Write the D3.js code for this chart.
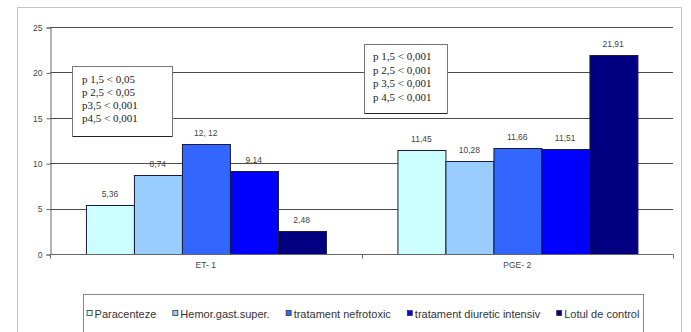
<!DOCTYPE html>
<html>
<head>
<meta charset="utf-8">
<script src="https://cdn.jsdelivr.net/npm/d3@7"></script>
<style>
  html, body { margin: 0; padding: 0; background: #fff; }
  svg { display: block; }
  text { font-family: "Liberation Sans", Arial, sans-serif; }
</style>
</head>
<body>
<svg id="chart" width="691" height="332"></svg>
<script>
// Categories (groups on the x axis)
const categories = ["ET- 1", "PGE- 2"];

// Series names (legend order)
const seriesNames = ["Paracenteze", "Hemor.gast.super.", "tratament nefrotoxic", "tratament diuretic intensiv", "Lotul de control"];

// Values per series, one per category
const paracenteze = [5.36, 11.45];
const hemorGast = [8.74, 10.28];
const nefrotoxic = [12.12, 11.66];
const diuretic = [9.14, 11.51];
const control = [2.48, 21.91];

// Value labels as printed above the bars
const paracentezeLabels = ["5,36", "11,45"];
const hemorGastLabels = ["8,74", "10,28"];
const nefrotoxicLabels = ["12, 12", "11,66"];
const diureticLabels = ["9,14", "11,51"];
const controlLabels = ["2,48", "21,91"];

// Y axis ticks
const yTicks = [0, 5, 10, 15, 20, 25];

// Significance notes for each group
const notesET = ["p 1,5 < 0,05", "p 2,5 < 0,05", "p3,5 < 0,001", "p4,5 < 0,001"];
const notesPGE = ["p 1,5 < 0,001", "p 2,5 < 0,001", "p 3,5 < 0,001", "p 4,5 < 0,001"];

const seriesValues = [paracenteze, hemorGast, nefrotoxic, diuretic, control];
const seriesLabels = [paracentezeLabels, hemorGastLabels, nefrotoxicLabels, diureticLabels, controlLabels];
const colors = ["#CCFFFF", "#99CCFF", "#3366FF", "#0000FF", "#000080"];

const svg = d3.select("#chart");

// Outer chart frame
svg.append("path")
  .attr("d", "M17.5,340 V7.5 H681.5 V340")
  .attr("fill", "none")
  .attr("stroke", "#c4c4c4")
  .attr("stroke-width", 1);

const plot = { left: 50, right: 673, top: 27, bottom: 254 };

const y = d3.scaleLinear().domain([0, 25]).range([plot.bottom, plot.top]);

const x0 = d3.scaleBand()
  .domain(categories)
  .range([plot.left, plot.right])
  .paddingInner(1.5 / 6.5)
  .paddingOuter(0.75 / 6.5);

const x1 = d3.scaleBand()
  .domain(d3.range(seriesNames.length))
  .range([0, x0.bandwidth()]);

// Horizontal gridlines
svg.append("g")
  .selectAll("line")
  .data(yTicks.filter(d => d > 0))
  .join("line")
  .attr("x1", plot.left)
  .attr("x2", plot.right)
  .attr("y1", d => Math.round(y(d)) + 0.5)
  .attr("y2", d => Math.round(y(d)) + 0.5)
  .attr("stroke", "#4a4a4a")
  .attr("stroke-width", 1);

// Y axis
const yAxis = d3.axisLeft(y).tickValues(yTicks).tickSize(4).tickPadding(4).tickFormat(d3.format("d"));
const gy = svg.append("g")
  .attr("transform", `translate(${plot.left + 0.5},0.5)`)
  .call(yAxis);
gy.select(".domain").attr("stroke", "#666");
gy.selectAll(".tick line").attr("stroke", "#666");
gy.selectAll(".tick text")
  .attr("fill", "#444")
  .style("font-size", "8.5px")
  .style("font-family", "Liberation Sans, Arial, sans-serif");

// Bars
const groups = svg.append("g")
  .selectAll("g")
  .data(categories)
  .join("g")
  .attr("transform", d => `translate(${x0(d)},0)`);

groups.selectAll("rect")
  .data((c, ci) => seriesValues.map((vals, si) => ({ si, v: vals[ci] })))
  .join("rect")
  .attr("x", d => Math.round(x1(d.si)) + 0.5)
  .attr("width", Math.round(x1.bandwidth()))
  .attr("y", d => Math.round(y(d.v)) + 0.5)
  .attr("height", d => Math.round(y(0)) - Math.round(y(d.v)))
  .attr("fill", d => colors[d.si])
  .attr("stroke", "#1a1a3a")
  .attr("stroke-width", 1);

// Value labels above bars
groups.selectAll("text.val")
  .data((c, ci) => seriesValues.map((vals, si) => ({ si, v: vals[ci], label: seriesLabels[si][ci] })))
  .join("text")
  .attr("class", "val")
  .attr("x", d => x1(d.si) + x1.bandwidth() / 2)
  .attr("y", d => y(d.v) - 8)
  .attr("text-anchor", "middle")
  .attr("fill", "#444")
  .style("font-size", "8.5px")
  .text(d => d.label);

// Category axis
const xAxis = d3.axisBottom(x0).tickSize(0).tickPadding(7);
const gx = svg.append("g")
  .attr("transform", `translate(0,${plot.bottom + 0.5})`)
  .call(xAxis);
gx.select(".domain").attr("stroke", "#666").attr("d", `M${plot.left},0H${plot.right}`);
gx.selectAll(".tick text")
  .attr("fill", "#444")
  .style("font-size", "8.5px")
  .style("font-family", "Liberation Sans, Arial, sans-serif");
// Category separator ticks at the group boundaries
gx.append("g")
  .selectAll("line")
  .data([plot.left, (plot.left + plot.right) / 2, plot.right])
  .join("line")
  .attr("x1", d => Math.round(d) + 0.5)
  .attr("x2", d => Math.round(d) + 0.5)
  .attr("y1", 0)
  .attr("y2", 4)
  .attr("stroke", "#666");

// Significance note boxes
function noteBox(lines, bx, by, bw, bh, tx, ty0, lh) {
  const g = svg.append("g");
  g.append("rect")
    .attr("x", bx + 0.5).attr("y", by + 0.5)
    .attr("width", bw).attr("height", bh)
    .attr("fill", "#fff")
    .attr("stroke", "#777");
  g.append("line")
    .attr("x1", bx + 1).attr("x2", bx + bw)
    .attr("y1", by + bh + 0.5).attr("y2", by + bh + 0.5)
    .attr("stroke", "#222").attr("stroke-width", 1.2);
  g.selectAll("text")
    .data(lines)
    .join("text")
    .attr("x", tx)
    .attr("y", (d, i) => ty0 + i * lh)
    .attr("fill", "#1a1a1a")
    .style("font-family", "Liberation Serif, 'Times New Roman', serif")
    .style("font-size", "11px")
    .text(d => d);
}
noteBox(notesET, 72, 66, 100, 70, 82, 83, 13);
noteBox(notesPGE, 364, 44, 83, 69, 373, 60, 13.7);

// Legend
const legendBox = { x: 83, y: 294, w: 560, h: 45 };
svg.append("rect")
  .attr("x", legendBox.x + 0.5).attr("y", legendBox.y + 0.5)
  .attr("width", legendBox.w).attr("height", legendBox.h)
  .attr("fill", "#fff")
  .attr("stroke", "#888");

const legend = svg.append("g");
const items = legend.selectAll("g")
  .data(seriesNames)
  .join("g");
items.append("rect")
  .attr("x", 0.5).attr("y", -7.5)
  .attr("width", 5).attr("height", 5)
  .attr("fill", (d, i) => colors[i])
  .attr("stroke", "#333")
  .attr("stroke-width", 0.8);
items.append("text")
  .attr("x", 8)
  .attr("y", 0)
  .attr("fill", "#333")
  .style("font-size", "11px")
  .text(d => d);

const gap = 16;
let cursor = 0;
items.each(function () {
  const w = 8 + this.querySelector("text").getComputedTextLength();
  d3.select(this).attr("data-x", cursor);
  cursor += w + gap;
});
const totalW = cursor - gap;
const startX = legendBox.x + (legendBox.w - totalW) / 2;
items.attr("transform", function () {
  return `translate(${startX + (+this.getAttribute("data-x"))},318)`;
});
</script>
</body>
</html>
